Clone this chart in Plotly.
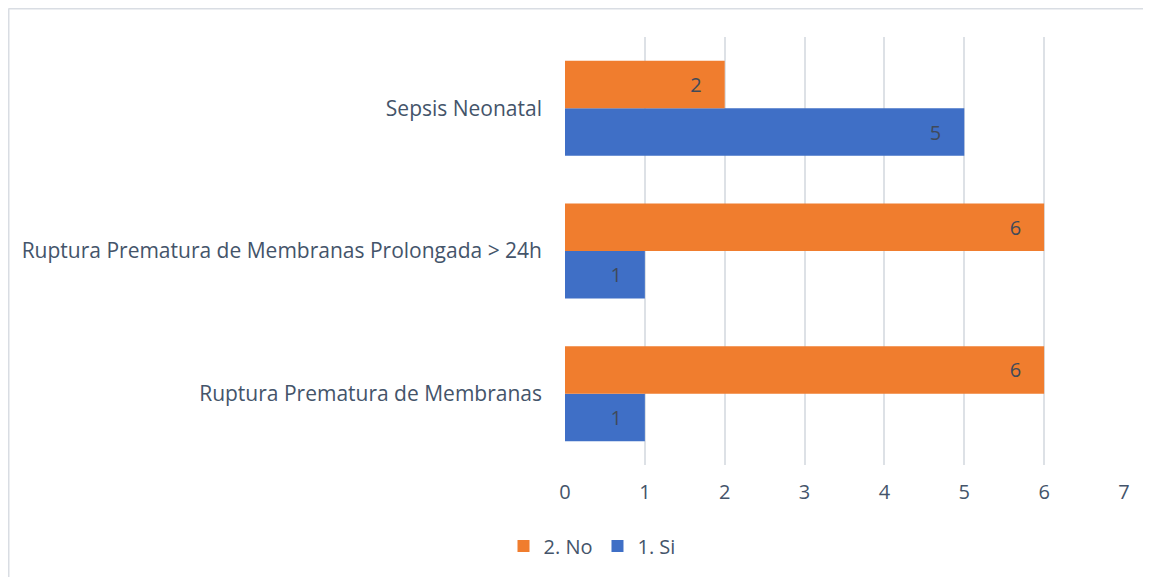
import plotly.graph_objects as go

categories = ["Ruptura Prematura de Membranas",
              "Ruptura Prematura de Membranas Prolongada > 24h",
              "Sepsis Neonatal"]
si_values = [1, 1, 5]
no_values = [6, 6, 2]
x_ticks = [0, 1, 2, 3, 4, 5, 6, 7]

OFF = 8  # page body margin
W, H = 1151 - OFF, 577 - OFF
L, R, T, B = 565 - OFF, 27, 37 - OFF, 112
pw, ph = W - L - R, H - T - B

font_family = "'Open Sans', sans-serif"
txt_color = "#44546A"
fs = 20.5

fig = go.Figure()
fig.add_trace(go.Bar(
    y=categories, x=si_values, name="1. Si", orientation="h",
    marker=dict(color="#3F6FC6", line=dict(width=0)),
    text=si_values, texttemplate="%{text}\u2002\u2002", textposition="inside",
    insidetextanchor="end",
    textfont=dict(color="#404A5A", size=20, family=font_family),
))
fig.add_trace(go.Bar(
    y=categories, x=no_values, name="2. No", orientation="h",
    marker=dict(color="#F07D2E", line=dict(width=0)),
    text=no_values, texttemplate="%{text}\u2002\u2002", textposition="inside",
    insidetextanchor="end",
    textfont=dict(color="#404A5A", size=20, family=font_family),
))

def px_x(x):
    return (x - OFF - L) / pw

def px_y(y):
    return (H - B - (y - OFF)) / ph

fig.update_layout(
    width=W, height=H,
    margin=dict(l=L, r=R, t=T, b=B, autoexpand=False),
    paper_bgcolor="white", plot_bgcolor="white",
    barmode="group", bargap=0.334, bargroupgap=0,
    font=dict(family=font_family, size=fs, color=txt_color),
    xaxis=dict(range=[0, 7], tickvals=x_ticks, showgrid=True,
               gridcolor="#DDE1E6", gridwidth=1.5, zeroline=False,
               showline=False, ticks="", ticklabelstandoff=13,
               tickfont=dict(size=20, color=txt_color)),
    yaxis=dict(showgrid=False, zeroline=False, showline=False, ticks="",
               ticklabelstandoff=22, automargin=False,
               tickfont=dict(size=21, color=txt_color)),
    legend=dict(orientation="h", traceorder="reversed",
                x=px_x(592), xanchor="center", y=px_y(546), yanchor="middle",
                font=dict(size=20, color=txt_color), itemwidth=30,
                bgcolor="rgba(0,0,0,0)"),
    showlegend=True,
    shapes=[
        dict(type="line", xref="paper", yref="paper",
             x0=px_x(8.5), x1=px_x(1160), y0=px_y(8.5), y1=px_y(8.5),
             line=dict(color="#D9DDE3", width=2)),
        dict(type="line", xref="paper", yref="paper",
             x0=px_x(8.5), x1=px_x(8.5), y0=px_y(8.5), y1=px_y(590),
             line=dict(color="#D9DDE3", width=2)),
    ],
)

fig.write_html("out.html")
